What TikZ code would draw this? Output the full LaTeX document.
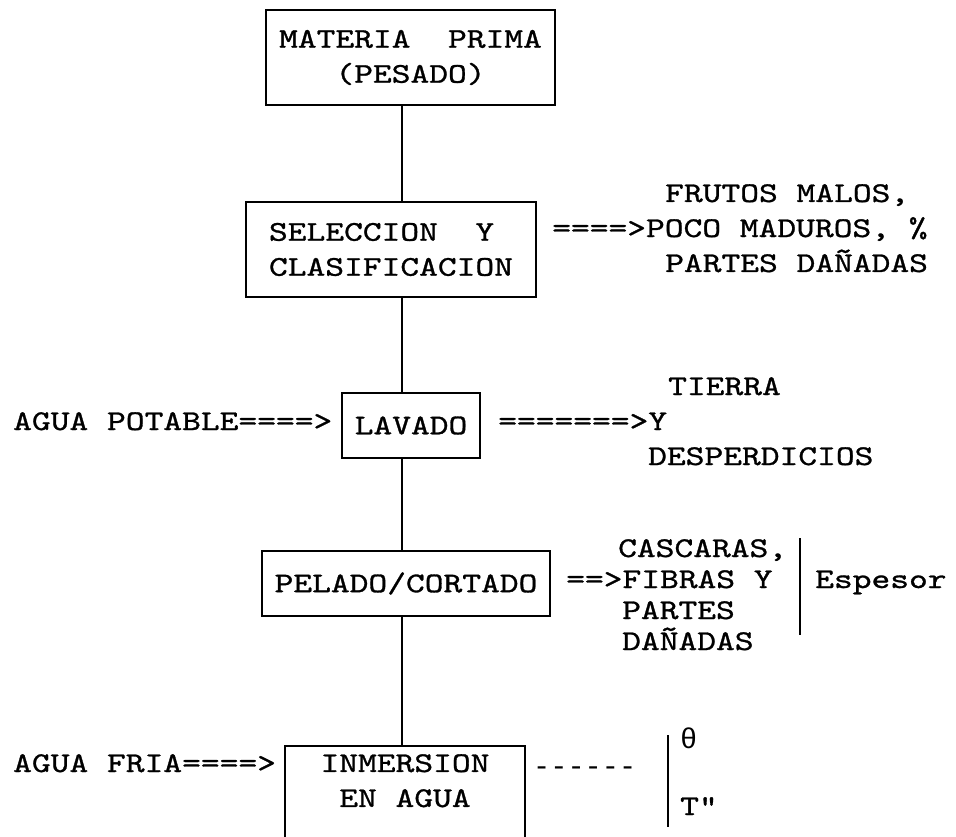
\documentclass[tikz,border=0pt]{standalone}
\usepackage{fontspec}
\setmonofont{lmmono10-regular.otf}[FakeStretch=1.25, FakeBold=1]
\newfontfamily\greekmono{Liberation Mono}

\begin{document}
\begin{tikzpicture}[x=1pt, y=-1pt,
  typed/.style={font=\ttfamily\fontsize{28.6}{35}\selectfont, inner sep=0pt},
  stagebox/.style={typed, draw, line width=2pt},
  flow/.style={line width=2pt}]
  \fill[white] (0,0) rectangle (956,837);
  \useasboundingbox (0,0) rectangle (956,837);
  \clip (0,0) rectangle (956,837);

  % etapas del proceso
  \node[stagebox, minimum width=289, minimum height=95, align=center] (materia) at (410.5,57.5) {MATERIA\ \ PRIMA\\(PESADO)};
  \node[stagebox, minimum width=290, minimum height=95, align=left] (seleccion) at (391,249.5) {SELECCION\ \ Y\\CLASIFICACION};
  \node[stagebox, minimum width=138, minimum height=65] (lavado) at (411,425.5) {LAVADO};
  \node[stagebox, minimum width=288, minimum height=65] (pelado) at (406,583.5) {PELADO/CORTADO};
  \node[stagebox, minimum width=240, minimum height=130, anchor=north] (inmersion) at (405,745) {};
  \node[typed, align=center, anchor=north] (inmersiontxt) at ([yshift=-9]inmersion.north) {INMERSION\\EN AGUA};

  \coordinate (spine) at (402,0);
  \foreach \a/\b in {materia/seleccion, seleccion/lavado, lavado/pelado, pelado/inmersion}
    \draw[flow] (\a.south -| spine) -- (\b.north -| spine);

  % entradas y salidas
  \node[typed, anchor=base west] (frutos) at (665,202) {FRUTOS MALOS,};
  \node[typed, anchor=base west] (salida1) at (552,237) {====>POCO MADUROS, \%};
  \node[typed, anchor=base west] (partes1) at (665,272) {PARTES DAÑADAS};

  \node[typed, anchor=base west] (aguapot) at (13,430) {AGUA POTABLE====>};
  \node[typed, anchor=base west] (tierra) at (668,395) {TIERRA};
  \node[typed, anchor=base west] (salida2) at (498,430) {=======>Y};
  \node[typed, anchor=base west] (desperd) at (648,465) {DESPERDICIOS};

  \node[typed, anchor=base west] (cascaras) at (618,557) {CASCARAS,};
  \node[typed, anchor=base west] (salida3) at (566,588) {==>FIBRAS Y};
  \node[typed, anchor=base west] (partes2) at (622,619) {PARTES};
  \node[typed, anchor=base west] (danadas) at (622,650) {DAÑADAS};
  \node[typed, anchor=base west] (espesor) at (815,588) {Espesor};

  \node[typed, anchor=base west] (aguafria) at (13,772) {AGUA FRIA====>};
  \node[typed, anchor=base west] (guiones) at (533,775) {\greekmono ------};
  \node[typed, anchor=base west] (theta) at (680,748) {\greekmono θ};
  \node[typed, anchor=base west] (tgrado) at (680,815) {T"};

  % llaves
  \coordinate (b1) at (800,538);
  \coordinate (b2) at (800,635);
  \coordinate (b3) at (668,735);
  \coordinate (b4) at (668,827);
  \draw[flow] (b1) -- (b2);
  \draw[flow] (b3) -- (b4);
\end{tikzpicture}
\end{document}
